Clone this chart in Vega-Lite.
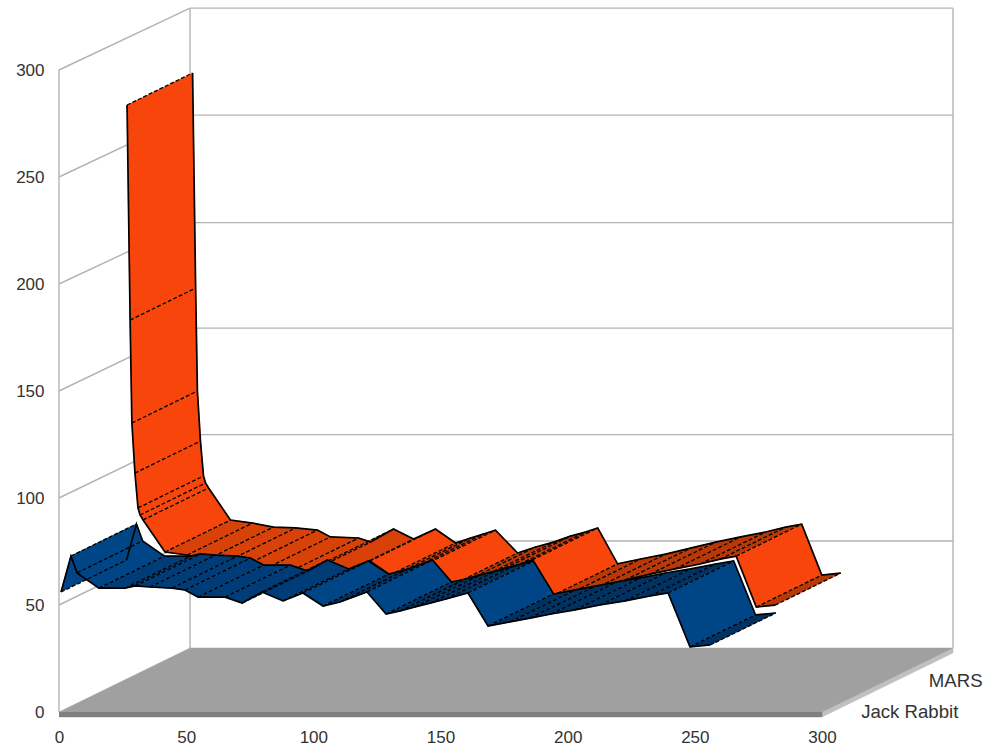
{
  "$schema": "https://vega.github.io/schema/vega-lite/v6.json",
  "width": 763,
  "height": 642,
  "autosize": "none",
  "padding": {"left": 59, "top": 70, "right": 168, "bottom": 39},
  "background": "white",
  "config": {"view": {"stroke": null}, "font": "Liberation Sans"},
  "datasets": {
    "series": [
      {"series":"Jack Rabbit","d":0,"i":0,"x":0.8,"y":56.1},{"series":"Jack Rabbit","d":0,"i":1,"x":4.7,"y":72.9},
      {"series":"Jack Rabbit","d":0,"i":2,"x":7.1,"y":65.0},{"series":"Jack Rabbit","d":0,"i":3,"x":15.7,"y":57.9},
      {"series":"Jack Rabbit","d":0,"i":4,"x":26.0,"y":57.9},{"series":"Jack Rabbit","d":0,"i":5,"x":29.9,"y":58.9},
      {"series":"Jack Rabbit","d":0,"i":6,"x":35.8,"y":58.4},{"series":"Jack Rabbit","d":0,"i":7,"x":44.4,"y":57.9},
      {"series":"Jack Rabbit","d":0,"i":8,"x":49.5,"y":57.0},{"series":"Jack Rabbit","d":0,"i":9,"x":54.7,"y":53.7},
      {"series":"Jack Rabbit","d":0,"i":10,"x":65.3,"y":53.7},{"series":"Jack Rabbit","d":0,"i":11,"x":72.0,"y":50.9},
      {"series":"Jack Rabbit","d":0,"i":12,"x":79.8,"y":56.1},{"series":"Jack Rabbit","d":0,"i":13,"x":88.1,"y":51.9},
      {"series":"Jack Rabbit","d":0,"i":14,"x":95.9,"y":55.6},{"series":"Jack Rabbit","d":0,"i":15,"x":103.8,"y":49.5},
      {"series":"Jack Rabbit","d":0,"i":16,"x":110.5,"y":51.4},{"series":"Jack Rabbit","d":0,"i":17,"x":121.1,"y":56.1},
      {"series":"Jack Rabbit","d":0,"i":18,"x":128.6,"y":45.8},{"series":"Jack Rabbit","d":0,"i":19,"x":134.1,"y":47.2},
      {"series":"Jack Rabbit","d":0,"i":20,"x":140.0,"y":49.1},{"series":"Jack Rabbit","d":0,"i":21,"x":145.9,"y":50.9},
      {"series":"Jack Rabbit","d":0,"i":22,"x":152.2,"y":52.8},{"series":"Jack Rabbit","d":0,"i":23,"x":160.8,"y":55.6},
      {"series":"Jack Rabbit","d":0,"i":24,"x":168.7,"y":40.2},{"series":"Jack Rabbit","d":0,"i":25,"x":177.3,"y":42.1},
      {"series":"Jack Rabbit","d":0,"i":26,"x":185.2,"y":43.9},{"series":"Jack Rabbit","d":0,"i":27,"x":193.5,"y":45.8},
      {"series":"Jack Rabbit","d":0,"i":28,"x":202.9,"y":47.7},{"series":"Jack Rabbit","d":0,"i":29,"x":212.7,"y":50.0},
      {"series":"Jack Rabbit","d":0,"i":30,"x":222.6,"y":51.9},{"series":"Jack Rabbit","d":0,"i":31,"x":232.4,"y":54.2},
      {"series":"Jack Rabbit","d":0,"i":32,"x":239.5,"y":55.6},{"series":"Jack Rabbit","d":0,"i":33,"x":248.1,"y":30.4},
      {"series":"Jack Rabbit","d":0,"i":34,"x":256.0,"y":31.3},
      {"series":"MARS","d":1,"i":0,"x":1.0,"y":268.7},{"series":"MARS","d":1,"i":1,"x":2.2,"y":168.2},
      {"series":"MARS","d":1,"i":2,"x":2.9,"y":120.1},{"series":"MARS","d":1,"i":3,"x":4.1,"y":96.7},
      {"series":"MARS","d":1,"i":4,"x":5.3,"y":80.4},{"series":"MARS","d":1,"i":5,"x":6.1,"y":77.1},
      {"series":"MARS","d":1,"i":6,"x":7.3,"y":74.8},{"series":"MARS","d":1,"i":7,"x":15.9,"y":59.8},
      {"series":"MARS","d":1,"i":8,"x":24.6,"y":58.4},{"series":"MARS","d":1,"i":9,"x":32.8,"y":56.5},
      {"series":"MARS","d":1,"i":10,"x":41.5,"y":56.1},{"series":"MARS","d":1,"i":11,"x":50.1,"y":55.1},
      {"series":"MARS","d":1,"i":12,"x":55.2,"y":51.9},{"series":"MARS","d":1,"i":13,"x":66.3,"y":51.4},
      {"series":"MARS","d":1,"i":14,"x":71.0,"y":49.5},{"series":"MARS","d":1,"i":15,"x":80.0,"y":55.6},
      {"series":"MARS","d":1,"i":16,"x":87.9,"y":50.9},{"series":"MARS","d":1,"i":17,"x":96.5,"y":55.6},
      {"series":"MARS","d":1,"i":18,"x":104.4,"y":49.1},{"series":"MARS","d":1,"i":19,"x":110.3,"y":51.4},
      {"series":"MARS","d":1,"i":20,"x":115.4,"y":53.3},{"series":"MARS","d":1,"i":21,"x":120.1,"y":55.1},
      {"series":"MARS","d":1,"i":22,"x":128.8,"y":44.4},{"series":"MARS","d":1,"i":23,"x":135.9,"y":47.2},
      {"series":"MARS","d":1,"i":24,"x":143.0,"y":49.5},{"series":"MARS","d":1,"i":25,"x":149.6,"y":52.3},
      {"series":"MARS","d":1,"i":26,"x":155.5,"y":54.2},{"series":"MARS","d":1,"i":27,"x":160.3,"y":56.1},
      {"series":"MARS","d":1,"i":28,"x":168.1,"y":39.3},{"series":"MARS","d":1,"i":29,"x":177.2,"y":41.6},
      {"series":"MARS","d":1,"i":30,"x":187.0,"y":43.9},{"series":"MARS","d":1,"i":31,"x":196.8,"y":46.7},
      {"series":"MARS","d":1,"i":32,"x":206.7,"y":49.5},{"series":"MARS","d":1,"i":33,"x":216.5,"y":51.9},
      {"series":"MARS","d":1,"i":34,"x":226.3,"y":54.2},{"series":"MARS","d":1,"i":35,"x":234.2,"y":56.5},
      {"series":"MARS","d":1,"i":36,"x":240.5,"y":57.9},{"series":"MARS","d":1,"i":37,"x":248.4,"y":34.1},
      {"series":"MARS","d":1,"i":38,"x":255.8,"y":35.0}
    ],
    "wallLines": [
      {"x":0,"y":0,"d":0,"xe":0,"ye":300,"de":0},
      {"x":0,"y":0,"d":2,"xe":0,"ye":299,"de":2},
      {"x":300,"y":0,"d":2,"xe":300,"ye":299,"de":2},
      {"x":0,"y":50,"d":0,"xe":0,"ye":50,"de":2},
      {"x":0,"y":100,"d":0,"xe":0,"ye":99.7,"de":2},
      {"x":0,"y":150,"d":0,"xe":0,"ye":149.5,"de":2},
      {"x":0,"y":200,"d":0,"xe":0,"ye":198.8,"de":2},
      {"x":0,"y":250,"d":0,"xe":0,"ye":249,"de":2},
      {"x":0,"y":300,"d":0,"xe":0,"ye":299,"de":2},
      {"x":0,"y":50,"d":2,"xe":300,"ye":50,"de":2},
      {"x":0,"y":99.7,"d":2,"xe":300,"ye":99.7,"de":2},
      {"x":0,"y":149.5,"d":2,"xe":300,"ye":149.5,"de":2},
      {"x":0,"y":198.8,"d":2,"xe":300,"ye":198.8,"de":2},
      {"x":0,"y":249,"d":2,"xe":300,"ye":249,"de":2},
      {"x":0,"y":299,"d":2,"xe":300,"ye":299,"de":2}
    ],
    "floor": [
      {"face":"side","k":0,"x":300,"y":0,"d":0},{"face":"side","k":1,"x":300,"y":0,"d":2},
      {"face":"side","k":2,"x":300,"y":-2.3,"d":2},{"face":"side","k":3,"x":300,"y":-2.3,"d":0},
      {"face":"front","k":0,"x":0,"y":0,"d":0},{"face":"front","k":1,"x":300,"y":0,"d":0},
      {"face":"front","k":2,"x":300,"y":-2.3,"d":0},{"face":"front","k":3,"x":0,"y":-2.3,"d":0},
      {"face":"top","k":0,"x":0,"y":0,"d":0},{"face":"top","k":1,"x":0,"y":0,"d":2},
      {"face":"top","k":2,"x":300,"y":0,"d":2},{"face":"top","k":3,"x":300,"y":0,"d":0}
    ],
    "seriesNames": [
      {"name":"Jack Rabbit","x":315.4,"y":0},
      {"name":"MARS","x":342,"y":14.5}
    ]
  },
  "layer": [
    {
      "data": {"name": "wallLines"},
      "transform": [
        {"calculate": "datum.x + datum.d * 25.76", "as": "px"},
        {"calculate": "datum.y + datum.d * 14.95", "as": "py"},
        {"calculate": "datum.xe + datum.de * 25.76", "as": "pxe"},
        {"calculate": "datum.ye + datum.de * 14.95", "as": "pye"}
      ],
      "mark": {"type": "rule", "color": "#b3b3b3", "strokeWidth": 1.4},
      "encoding": {
        "x": {"field": "px", "type": "quantitative", "scale": {"domain": [0, 300], "nice": false, "zero": false},
          "axis": {"title": null, "values": [0, 50, 100, 150, 200, 250, 300], "domain": false, "ticks": false, "grid": false, "labelFontSize": 17, "labelColor": "#333333", "labelPadding": 17, "labelFont": "Liberation Sans", "labelFlush": false}},
        "y": {"field": "py", "type": "quantitative", "scale": {"domain": [0, 300], "nice": false, "zero": false},
          "axis": {"title": null, "values": [0, 50, 100, 150, 200, 250, 300], "domain": false, "ticks": false, "grid": false, "labelFontSize": 17, "labelColor": "#333333", "labelPadding": 15, "labelFont": "Liberation Sans", "labelFlush": false}},
        "x2": {"field": "pxe"},
        "y2": {"field": "pye"}
      }
    },
    {
      "data": {"name": "floor"},
      "transform": [
        {"calculate": "datum.x + datum.d * 25.76", "as": "px"},
        {"calculate": "datum.y + datum.d * 14.95", "as": "py"}
      ],
      "mark": {"type": "line", "strokeWidth": 0.5},
      "encoding": {
        "x": {"field": "px", "type": "quantitative"},
        "y": {"field": "py", "type": "quantitative"},
        "order": {"field": "k"},
        "detail": {"field": "face"},
        "fill": {"field": "face", "type": "nominal", "legend": null, "scale": {"domain": ["top", "front", "side", "MARS lit", "MARS mid", "MARS dark", "Jack Rabbit lit", "Jack Rabbit mid", "Jack Rabbit dark"], "range": ["#a0a0a0", "#808080", "#c0c0c0", "#f7450b", "#d84108", "#b93806", "#004586", "#003d78", "#003264"]}},
        "stroke": {"field": "face", "type": "nominal", "legend": null, "scale": {"domain": ["top", "front", "side", "MARS lit", "MARS mid", "MARS dark", "Jack Rabbit lit", "Jack Rabbit mid", "Jack Rabbit dark"], "range": ["#a0a0a0", "#808080", "#c0c0c0", "#f7450b", "#d84108", "#b93806", "#004586", "#003d78", "#003264"]}}
      }
    },
    {
      "data": {"name": "series"},
      "transform": [
        {"filter": "datum.series === 'MARS'"},
        {"window": [{"op": "lead", "field": "x", "as": "xn"}, {"op": "lead", "field": "y", "as": "yn"}], "sort": [{"field": "i"}]},
        {"filter": "isValid(datum.xn)"},
        {"calculate": "(datum.yn - datum.y) / (datum.xn - datum.x)", "as": "slope"},
        {"calculate": "datum.series + (datum.slope < -0.7 || datum.slope > 1.2 ? ' lit' : datum.slope <= 0 ? ' mid' : ' dark')", "as": "shade"},
        {"calculate": "[datum.x + datum.d * 25.76, datum.xn + datum.d * 25.76, datum.xn + (datum.d + 1) * 25.76, datum.x + (datum.d + 1) * 25.76]", "as": "px"},
        {"calculate": "[datum.y + datum.d * 14.95, datum.yn + datum.d * 14.95, datum.yn + (datum.d + 1) * 14.95, datum.y + (datum.d + 1) * 14.95]", "as": "py"},
        {"calculate": "[0, 1, 2, 3]", "as": "k"},
        {"flatten": ["px", "py", "k"]}
      ],
      "mark": {"type": "line", "strokeWidth": 0.6},
      "encoding": {
        "x": {"field": "px", "type": "quantitative"},
        "y": {"field": "py", "type": "quantitative"},
        "order": {"field": "k"},
        "detail": {"field": "i"},
        "fill": {"field": "shade", "type": "nominal", "legend": null},
        "stroke": {"field": "shade", "type": "nominal", "legend": null}
      }
    },
    {
      "data": {"name": "series"},
      "transform": [
        {"filter": "datum.series === 'MARS'"},
        {"calculate": "datum.x + datum.d * 25.76", "as": "px"},
        {"calculate": "datum.y + datum.d * 14.95", "as": "py"},
        {"calculate": "datum.x + (datum.d + 1) * 25.76", "as": "pxe"},
        {"calculate": "datum.y + (datum.d + 1) * 14.95", "as": "pye"}
      ],
      "mark": {"type": "rule", "color": "#000000", "strokeWidth": 1.3, "strokeDash": [4, 2]},
      "encoding": {
        "x": {"field": "px", "type": "quantitative"},
        "y": {"field": "py", "type": "quantitative"},
        "x2": {"field": "pxe"},
        "y2": {"field": "pye"}
      }
    },
    {
      "data": {"name": "series"},
      "transform": [
        {"filter": "datum.series === 'MARS'"},
        {"calculate": "[datum.x + datum.d * 25.76, datum.x + (datum.d + 1) * 25.76]", "as": "px"},
        {"calculate": "[datum.y + datum.d * 14.95, datum.y + (datum.d + 1) * 14.95]", "as": "py"},
        {"calculate": "['front', 'back']", "as": "edge"},
        {"flatten": ["px", "py", "edge"]}
      ],
      "mark": {"type": "line", "color": "#000000", "strokeWidth": 1.7},
      "encoding": {
        "x": {"field": "px", "type": "quantitative"},
        "y": {"field": "py", "type": "quantitative"},
        "order": {"field": "i"},
        "detail": {"field": "edge"}
      }
    },
    {
      "data": {"name": "series"},
      "transform": [
        {"filter": "datum.series === 'Jack Rabbit'"},
        {"window": [{"op": "lead", "field": "x", "as": "xn"}, {"op": "lead", "field": "y", "as": "yn"}], "sort": [{"field": "i"}]},
        {"filter": "isValid(datum.xn)"},
        {"calculate": "(datum.yn - datum.y) / (datum.xn - datum.x)", "as": "slope"},
        {"calculate": "datum.series + (datum.slope < -0.7 || datum.slope > 1.2 ? ' lit' : datum.slope <= 0 ? ' mid' : ' dark')", "as": "shade"},
        {"calculate": "[datum.x + datum.d * 25.76, datum.xn + datum.d * 25.76, datum.xn + (datum.d + 1) * 25.76, datum.x + (datum.d + 1) * 25.76]", "as": "px"},
        {"calculate": "[datum.y + datum.d * 14.95, datum.yn + datum.d * 14.95, datum.yn + (datum.d + 1) * 14.95, datum.y + (datum.d + 1) * 14.95]", "as": "py"},
        {"calculate": "[0, 1, 2, 3]", "as": "k"},
        {"flatten": ["px", "py", "k"]}
      ],
      "mark": {"type": "line", "strokeWidth": 0.6},
      "encoding": {
        "x": {"field": "px", "type": "quantitative"},
        "y": {"field": "py", "type": "quantitative"},
        "order": {"field": "k"},
        "detail": {"field": "i"},
        "fill": {"field": "shade", "type": "nominal", "legend": null},
        "stroke": {"field": "shade", "type": "nominal", "legend": null}
      }
    },
    {
      "data": {"name": "series"},
      "transform": [
        {"filter": "datum.series === 'Jack Rabbit'"},
        {"calculate": "datum.x + datum.d * 25.76", "as": "px"},
        {"calculate": "datum.y + datum.d * 14.95", "as": "py"},
        {"calculate": "datum.x + (datum.d + 1) * 25.76", "as": "pxe"},
        {"calculate": "datum.y + (datum.d + 1) * 14.95", "as": "pye"}
      ],
      "mark": {"type": "rule", "color": "#000000", "strokeWidth": 1.3, "strokeDash": [4, 2]},
      "encoding": {
        "x": {"field": "px", "type": "quantitative"},
        "y": {"field": "py", "type": "quantitative"},
        "x2": {"field": "pxe"},
        "y2": {"field": "pye"}
      }
    },
    {
      "data": {"name": "series"},
      "transform": [
        {"filter": "datum.series === 'Jack Rabbit'"},
        {"calculate": "[datum.x + datum.d * 25.76, datum.x + (datum.d + 1) * 25.76]", "as": "px"},
        {"calculate": "[datum.y + datum.d * 14.95, datum.y + (datum.d + 1) * 14.95]", "as": "py"},
        {"calculate": "['front', 'back']", "as": "edge"},
        {"flatten": ["px", "py", "edge"]}
      ],
      "mark": {"type": "line", "color": "#000000", "strokeWidth": 1.7},
      "encoding": {
        "x": {"field": "px", "type": "quantitative"},
        "y": {"field": "py", "type": "quantitative"},
        "order": {"field": "i"},
        "detail": {"field": "edge"}
      }
    },
    {
      "data": {"name": "seriesNames"},
      "mark": {"type": "text", "align": "left", "baseline": "middle", "fontSize": 18.6, "color": "#333333", "font": "Liberation Sans"},
      "encoding": {
        "x": {"field": "x", "type": "quantitative"},
        "y": {"field": "y", "type": "quantitative"},
        "text": {"field": "name", "type": "nominal"}
      }
    }
  ]
}
